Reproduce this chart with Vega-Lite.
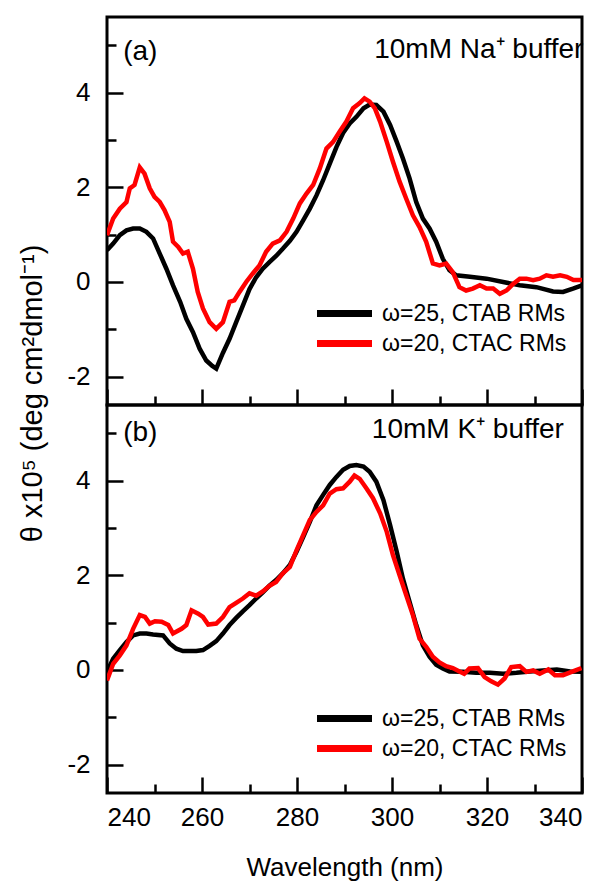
{
  "$schema": "https://vega.github.io/schema/vega-lite/v6.json",
  "padding": {"left": 16, "top": 15, "right": 5, "bottom": 5},
  "background": "white",
  "spacing": 0,
  "bounds": "flush",
  "config": {
    "font": "Liberation Sans",
    "view": {"stroke": "black", "strokeWidth": 3},
    "axis": {
      "domain": false,
      "grid": false,
      "tickColor": "black",
      "tickWidth": 2.5,
      "tickSize": -16,
      "labelColor": "black",
      "labelFont": "Liberation Sans",
      "labelFontSize": 26,
      "titleFont": "Liberation Sans",
      "titleFontSize": 26,
      "titleFontWeight": "normal",
      "titleColor": "black"
    },
    "legend": {
      "orient": "none",
      "legendX": 223,
      "title": null,
      "symbolType": "M-2.5,0H2.5",
      "symbolSize": 484,
      "symbolStrokeWidth": 7,
      "labelFont": "Liberation Sans",
      "labelFontSize": 23,
      "labelColor": "black",
      "labelOffset": 23,
      "labelLimit": 400,
      "rowPadding": 1
    }
  },
  "datasets": {
    "panelA": [
      {"wl": 240, "theta": 0.67, "series": "ω=25, CTAB RMs"},
      {"wl": 241.3, "theta": 0.81, "series": "ω=25, CTAB RMs"},
      {"wl": 242.7, "theta": 0.99, "series": "ω=25, CTAB RMs"},
      {"wl": 244.1, "theta": 1.09, "series": "ω=25, CTAB RMs"},
      {"wl": 245.5, "theta": 1.13, "series": "ω=25, CTAB RMs"},
      {"wl": 246.9, "theta": 1.13, "series": "ω=25, CTAB RMs"},
      {"wl": 248.3, "theta": 1.06, "series": "ω=25, CTAB RMs"},
      {"wl": 249.7, "theta": 0.92, "series": "ω=25, CTAB RMs"},
      {"wl": 251.1, "theta": 0.6, "series": "ω=25, CTAB RMs"},
      {"wl": 252.5, "theta": 0.28, "series": "ω=25, CTAB RMs"},
      {"wl": 253.9, "theta": -0.07, "series": "ω=25, CTAB RMs"},
      {"wl": 255.4, "theta": -0.42, "series": "ω=25, CTAB RMs"},
      {"wl": 256.7, "theta": -0.78, "series": "ω=25, CTAB RMs"},
      {"wl": 258.1, "theta": -1.06, "series": "ω=25, CTAB RMs"},
      {"wl": 259.5, "theta": -1.41, "series": "ω=25, CTAB RMs"},
      {"wl": 260.9, "theta": -1.66, "series": "ω=25, CTAB RMs"},
      {"wl": 262.1, "theta": -1.77, "series": "ω=25, CTAB RMs"},
      {"wl": 263, "theta": -1.83, "series": "ω=25, CTAB RMs"},
      {"wl": 264.4, "theta": -1.5, "series": "ω=25, CTAB RMs"},
      {"wl": 265.8, "theta": -1.2, "series": "ω=25, CTAB RMs"},
      {"wl": 267.2, "theta": -0.85, "series": "ω=25, CTAB RMs"},
      {"wl": 268.6, "theta": -0.5, "series": "ω=25, CTAB RMs"},
      {"wl": 270, "theta": -0.15, "series": "ω=25, CTAB RMs"},
      {"wl": 271.4, "theta": 0.1, "series": "ω=25, CTAB RMs"},
      {"wl": 272.8, "theta": 0.28, "series": "ω=25, CTAB RMs"},
      {"wl": 274.2, "theta": 0.42, "series": "ω=25, CTAB RMs"},
      {"wl": 275.6, "theta": 0.55, "series": "ω=25, CTAB RMs"},
      {"wl": 277, "theta": 0.7, "series": "ω=25, CTAB RMs"},
      {"wl": 278.5, "theta": 0.87, "series": "ω=25, CTAB RMs"},
      {"wl": 279.9, "theta": 1.06, "series": "ω=25, CTAB RMs"},
      {"wl": 281.3, "theta": 1.3, "series": "ω=25, CTAB RMs"},
      {"wl": 282.7, "theta": 1.55, "series": "ω=25, CTAB RMs"},
      {"wl": 284.1, "theta": 1.83, "series": "ω=25, CTAB RMs"},
      {"wl": 285.5, "theta": 2.15, "series": "ω=25, CTAB RMs"},
      {"wl": 286.9, "theta": 2.5, "series": "ω=25, CTAB RMs"},
      {"wl": 288.3, "theta": 2.85, "series": "ω=25, CTAB RMs"},
      {"wl": 289.7, "theta": 3.15, "series": "ω=25, CTAB RMs"},
      {"wl": 291.1, "theta": 3.35, "series": "ω=25, CTAB RMs"},
      {"wl": 292.5, "theta": 3.49, "series": "ω=25, CTAB RMs"},
      {"wl": 294, "theta": 3.67, "series": "ω=25, CTAB RMs"},
      {"wl": 295.3, "theta": 3.75, "series": "ω=25, CTAB RMs"},
      {"wl": 296.7, "theta": 3.74, "series": "ω=25, CTAB RMs"},
      {"wl": 298.2, "theta": 3.6, "series": "ω=25, CTAB RMs"},
      {"wl": 299.6, "theta": 3.32, "series": "ω=25, CTAB RMs"},
      {"wl": 301, "theta": 2.96, "series": "ω=25, CTAB RMs"},
      {"wl": 302.3, "theta": 2.61, "series": "ω=25, CTAB RMs"},
      {"wl": 303.7, "theta": 2.19, "series": "ω=25, CTAB RMs"},
      {"wl": 305.1, "theta": 1.69, "series": "ω=25, CTAB RMs"},
      {"wl": 306.5, "theta": 1.34, "series": "ω=25, CTAB RMs"},
      {"wl": 307.9, "theta": 1.13, "series": "ω=25, CTAB RMs"},
      {"wl": 309.3, "theta": 0.85, "series": "ω=25, CTAB RMs"},
      {"wl": 310.7, "theta": 0.49, "series": "ω=25, CTAB RMs"},
      {"wl": 312.1, "theta": 0.25, "series": "ω=25, CTAB RMs"},
      {"wl": 313.5, "theta": 0.14, "series": "ω=25, CTAB RMs"},
      {"wl": 316.4, "theta": 0.11, "series": "ω=25, CTAB RMs"},
      {"wl": 319.9, "theta": 0.07, "series": "ω=25, CTAB RMs"},
      {"wl": 323.4, "theta": 0.0, "series": "ω=25, CTAB RMs"},
      {"wl": 326.9, "theta": -0.07, "series": "ω=25, CTAB RMs"},
      {"wl": 330.4, "theta": -0.11, "series": "ω=25, CTAB RMs"},
      {"wl": 333.9, "theta": -0.2, "series": "ω=25, CTAB RMs"},
      {"wl": 336, "theta": -0.21, "series": "ω=25, CTAB RMs"},
      {"wl": 338.1, "theta": -0.14, "series": "ω=25, CTAB RMs"},
      {"wl": 340, "theta": -0.07, "series": "ω=25, CTAB RMs"},
      {"wl": 240, "theta": 0.99, "series": "ω=20, CTAC RMs"},
      {"wl": 241.3, "theta": 1.34, "series": "ω=20, CTAC RMs"},
      {"wl": 242.7, "theta": 1.55, "series": "ω=20, CTAC RMs"},
      {"wl": 244.1, "theta": 1.69, "series": "ω=20, CTAC RMs"},
      {"wl": 244.8, "theta": 1.98, "series": "ω=20, CTAC RMs"},
      {"wl": 245.8, "theta": 2.05, "series": "ω=20, CTAC RMs"},
      {"wl": 246.9, "theta": 2.42, "series": "ω=20, CTAC RMs"},
      {"wl": 247.9, "theta": 2.29, "series": "ω=20, CTAC RMs"},
      {"wl": 249, "theta": 1.98, "series": "ω=20, CTAC RMs"},
      {"wl": 250, "theta": 1.8, "series": "ω=20, CTAC RMs"},
      {"wl": 251.1, "theta": 1.69, "series": "ω=20, CTAC RMs"},
      {"wl": 252.1, "theta": 1.52, "series": "ω=20, CTAC RMs"},
      {"wl": 253.2, "theta": 1.27, "series": "ω=20, CTAC RMs"},
      {"wl": 253.9, "theta": 0.85, "series": "ω=20, CTAC RMs"},
      {"wl": 255, "theta": 0.74, "series": "ω=20, CTAC RMs"},
      {"wl": 256, "theta": 0.6, "series": "ω=20, CTAC RMs"},
      {"wl": 257, "theta": 0.64, "series": "ω=20, CTAC RMs"},
      {"wl": 258.1, "theta": 0.28, "series": "ω=20, CTAC RMs"},
      {"wl": 259.1, "theta": -0.21, "series": "ω=20, CTAC RMs"},
      {"wl": 260.2, "theta": -0.56, "series": "ω=20, CTAC RMs"},
      {"wl": 261.6, "theta": -0.85, "series": "ω=20, CTAC RMs"},
      {"wl": 263, "theta": -0.99, "series": "ω=20, CTAC RMs"},
      {"wl": 264.4, "theta": -0.85, "series": "ω=20, CTAC RMs"},
      {"wl": 265.8, "theta": -0.42, "series": "ω=20, CTAC RMs"},
      {"wl": 266.8, "theta": -0.39, "series": "ω=20, CTAC RMs"},
      {"wl": 267.9, "theta": -0.21, "series": "ω=20, CTAC RMs"},
      {"wl": 269.3, "theta": 0.0, "series": "ω=20, CTAC RMs"},
      {"wl": 270.7, "theta": 0.18, "series": "ω=20, CTAC RMs"},
      {"wl": 272.1, "theta": 0.35, "series": "ω=20, CTAC RMs"},
      {"wl": 273.5, "theta": 0.64, "series": "ω=20, CTAC RMs"},
      {"wl": 274.9, "theta": 0.81, "series": "ω=20, CTAC RMs"},
      {"wl": 276.4, "theta": 0.88, "series": "ω=20, CTAC RMs"},
      {"wl": 277.8, "theta": 1.06, "series": "ω=20, CTAC RMs"},
      {"wl": 279.2, "theta": 1.34, "series": "ω=20, CTAC RMs"},
      {"wl": 280.6, "theta": 1.66, "series": "ω=20, CTAC RMs"},
      {"wl": 282, "theta": 1.87, "series": "ω=20, CTAC RMs"},
      {"wl": 283.4, "theta": 2.05, "series": "ω=20, CTAC RMs"},
      {"wl": 284.8, "theta": 2.4, "series": "ω=20, CTAC RMs"},
      {"wl": 286.2, "theta": 2.82, "series": "ω=20, CTAC RMs"},
      {"wl": 287.6, "theta": 2.96, "series": "ω=20, CTAC RMs"},
      {"wl": 289, "theta": 3.18, "series": "ω=20, CTAC RMs"},
      {"wl": 290.4, "theta": 3.39, "series": "ω=20, CTAC RMs"},
      {"wl": 291.8, "theta": 3.67, "series": "ω=20, CTAC RMs"},
      {"wl": 293.2, "theta": 3.78, "series": "ω=20, CTAC RMs"},
      {"wl": 294.2, "theta": 3.88, "series": "ω=20, CTAC RMs"},
      {"wl": 295.3, "theta": 3.81, "series": "ω=20, CTAC RMs"},
      {"wl": 296.4, "theta": 3.67, "series": "ω=20, CTAC RMs"},
      {"wl": 297.5, "theta": 3.39, "series": "ω=20, CTAC RMs"},
      {"wl": 298.9, "theta": 2.96, "series": "ω=20, CTAC RMs"},
      {"wl": 300.2, "theta": 2.54, "series": "ω=20, CTAC RMs"},
      {"wl": 301.6, "theta": 2.12, "series": "ω=20, CTAC RMs"},
      {"wl": 303, "theta": 1.76, "series": "ω=20, CTAC RMs"},
      {"wl": 304.4, "theta": 1.41, "series": "ω=20, CTAC RMs"},
      {"wl": 305.8, "theta": 1.16, "series": "ω=20, CTAC RMs"},
      {"wl": 307.2, "theta": 0.85, "series": "ω=20, CTAC RMs"},
      {"wl": 308.6, "theta": 0.39, "series": "ω=20, CTAC RMs"},
      {"wl": 310, "theta": 0.35, "series": "ω=20, CTAC RMs"},
      {"wl": 311.4, "theta": 0.39, "series": "ω=20, CTAC RMs"},
      {"wl": 312.8, "theta": 0.21, "series": "ω=20, CTAC RMs"},
      {"wl": 314.2, "theta": -0.11, "series": "ω=20, CTAC RMs"},
      {"wl": 315.6, "theta": -0.18, "series": "ω=20, CTAC RMs"},
      {"wl": 317, "theta": -0.14, "series": "ω=20, CTAC RMs"},
      {"wl": 318.5, "theta": -0.07, "series": "ω=20, CTAC RMs"},
      {"wl": 319.9, "theta": -0.14, "series": "ω=20, CTAC RMs"},
      {"wl": 321.3, "theta": -0.14, "series": "ω=20, CTAC RMs"},
      {"wl": 322.7, "theta": -0.25, "series": "ω=20, CTAC RMs"},
      {"wl": 324.1, "theta": -0.18, "series": "ω=20, CTAC RMs"},
      {"wl": 325.5, "theta": -0.04, "series": "ω=20, CTAC RMs"},
      {"wl": 326.9, "theta": 0.07, "series": "ω=20, CTAC RMs"},
      {"wl": 328.3, "theta": 0.07, "series": "ω=20, CTAC RMs"},
      {"wl": 329.7, "theta": 0.04, "series": "ω=20, CTAC RMs"},
      {"wl": 331.1, "theta": 0.07, "series": "ω=20, CTAC RMs"},
      {"wl": 332.5, "theta": 0.14, "series": "ω=20, CTAC RMs"},
      {"wl": 333.9, "theta": 0.11, "series": "ω=20, CTAC RMs"},
      {"wl": 335.4, "theta": 0.14, "series": "ω=20, CTAC RMs"},
      {"wl": 336.8, "theta": 0.11, "series": "ω=20, CTAC RMs"},
      {"wl": 338.2, "theta": 0.04, "series": "ω=20, CTAC RMs"},
      {"wl": 340, "theta": 0.04, "series": "ω=20, CTAC RMs"}
    ],
    "panelB": [
      {"wl": 240, "theta": -0.04, "series": "ω=25, CTAB RMs"},
      {"wl": 241.3, "theta": 0.24, "series": "ω=25, CTAB RMs"},
      {"wl": 242.7, "theta": 0.42, "series": "ω=25, CTAB RMs"},
      {"wl": 244.1, "theta": 0.59, "series": "ω=25, CTAB RMs"},
      {"wl": 245.5, "theta": 0.73, "series": "ω=25, CTAB RMs"},
      {"wl": 246.9, "theta": 0.77, "series": "ω=25, CTAB RMs"},
      {"wl": 248.3, "theta": 0.77, "series": "ω=25, CTAB RMs"},
      {"wl": 249.7, "theta": 0.75, "series": "ω=25, CTAB RMs"},
      {"wl": 251.8, "theta": 0.73, "series": "ω=25, CTAB RMs"},
      {"wl": 253.2, "theta": 0.56, "series": "ω=25, CTAB RMs"},
      {"wl": 254.6, "theta": 0.45, "series": "ω=25, CTAB RMs"},
      {"wl": 256, "theta": 0.4, "series": "ω=25, CTAB RMs"},
      {"wl": 257.4, "theta": 0.4, "series": "ω=25, CTAB RMs"},
      {"wl": 258.8, "theta": 0.4, "series": "ω=25, CTAB RMs"},
      {"wl": 260.2, "theta": 0.42, "series": "ω=25, CTAB RMs"},
      {"wl": 261.6, "theta": 0.51, "series": "ω=25, CTAB RMs"},
      {"wl": 263, "theta": 0.61, "series": "ω=25, CTAB RMs"},
      {"wl": 264.4, "theta": 0.77, "series": "ω=25, CTAB RMs"},
      {"wl": 265.8, "theta": 0.95, "series": "ω=25, CTAB RMs"},
      {"wl": 267.2, "theta": 1.1, "series": "ω=25, CTAB RMs"},
      {"wl": 268.6, "theta": 1.24, "series": "ω=25, CTAB RMs"},
      {"wl": 270, "theta": 1.37, "series": "ω=25, CTAB RMs"},
      {"wl": 271.4, "theta": 1.51, "series": "ω=25, CTAB RMs"},
      {"wl": 272.8, "theta": 1.64, "series": "ω=25, CTAB RMs"},
      {"wl": 274.2, "theta": 1.78, "series": "ω=25, CTAB RMs"},
      {"wl": 275.6, "theta": 1.9, "series": "ω=25, CTAB RMs"},
      {"wl": 277, "theta": 2.04, "series": "ω=25, CTAB RMs"},
      {"wl": 278.5, "theta": 2.22, "series": "ω=25, CTAB RMs"},
      {"wl": 279.9, "theta": 2.5, "series": "ω=25, CTAB RMs"},
      {"wl": 281.3, "theta": 2.81, "series": "ω=25, CTAB RMs"},
      {"wl": 282.7, "theta": 3.13, "series": "ω=25, CTAB RMs"},
      {"wl": 284.1, "theta": 3.48, "series": "ω=25, CTAB RMs"},
      {"wl": 285.5, "theta": 3.7, "series": "ω=25, CTAB RMs"},
      {"wl": 286.9, "theta": 3.91, "series": "ω=25, CTAB RMs"},
      {"wl": 288.3, "theta": 4.08, "series": "ω=25, CTAB RMs"},
      {"wl": 289.7, "theta": 4.23, "series": "ω=25, CTAB RMs"},
      {"wl": 291.1, "theta": 4.31, "series": "ω=25, CTAB RMs"},
      {"wl": 292.5, "theta": 4.33, "series": "ω=25, CTAB RMs"},
      {"wl": 294, "theta": 4.3, "series": "ω=25, CTAB RMs"},
      {"wl": 295.3, "theta": 4.19, "series": "ω=25, CTAB RMs"},
      {"wl": 296.7, "theta": 3.98, "series": "ω=25, CTAB RMs"},
      {"wl": 298.2, "theta": 3.59, "series": "ω=25, CTAB RMs"},
      {"wl": 299.6, "theta": 3.06, "series": "ω=25, CTAB RMs"},
      {"wl": 301, "theta": 2.5, "series": "ω=25, CTAB RMs"},
      {"wl": 302.3, "theta": 1.93, "series": "ω=25, CTAB RMs"},
      {"wl": 303.7, "theta": 1.44, "series": "ω=25, CTAB RMs"},
      {"wl": 305.1, "theta": 0.95, "series": "ω=25, CTAB RMs"},
      {"wl": 306.5, "theta": 0.52, "series": "ω=25, CTAB RMs"},
      {"wl": 307.9, "theta": 0.28, "series": "ω=25, CTAB RMs"},
      {"wl": 309.3, "theta": 0.11, "series": "ω=25, CTAB RMs"},
      {"wl": 310.7, "theta": 0.03, "series": "ω=25, CTAB RMs"},
      {"wl": 312.1, "theta": -0.03, "series": "ω=25, CTAB RMs"},
      {"wl": 314.9, "theta": -0.04, "series": "ω=25, CTAB RMs"},
      {"wl": 317.7, "theta": -0.06, "series": "ω=25, CTAB RMs"},
      {"wl": 320.6, "theta": -0.06, "series": "ω=25, CTAB RMs"},
      {"wl": 323.4, "theta": -0.08, "series": "ω=25, CTAB RMs"},
      {"wl": 326.2, "theta": -0.06, "series": "ω=25, CTAB RMs"},
      {"wl": 329, "theta": -0.03, "series": "ω=25, CTAB RMs"},
      {"wl": 331.8, "theta": -0.01, "series": "ω=25, CTAB RMs"},
      {"wl": 334.7, "theta": 0.01, "series": "ω=25, CTAB RMs"},
      {"wl": 337.5, "theta": -0.03, "series": "ω=25, CTAB RMs"},
      {"wl": 340, "theta": -0.04, "series": "ω=25, CTAB RMs"},
      {"wl": 240, "theta": -0.22, "series": "ω=20, CTAC RMs"},
      {"wl": 241.3, "theta": 0.13, "series": "ω=20, CTAC RMs"},
      {"wl": 242.7, "theta": 0.31, "series": "ω=20, CTAC RMs"},
      {"wl": 244.1, "theta": 0.52, "series": "ω=20, CTAC RMs"},
      {"wl": 245.5, "theta": 0.87, "series": "ω=20, CTAC RMs"},
      {"wl": 246.9, "theta": 1.16, "series": "ω=20, CTAC RMs"},
      {"wl": 248, "theta": 1.12, "series": "ω=20, CTAC RMs"},
      {"wl": 249, "theta": 0.98, "series": "ω=20, CTAC RMs"},
      {"wl": 250.1, "theta": 1.03, "series": "ω=20, CTAC RMs"},
      {"wl": 251.5, "theta": 1.02, "series": "ω=20, CTAC RMs"},
      {"wl": 252.9, "theta": 0.95, "series": "ω=20, CTAC RMs"},
      {"wl": 253.9, "theta": 0.77, "series": "ω=20, CTAC RMs"},
      {"wl": 255.7, "theta": 0.87, "series": "ω=20, CTAC RMs"},
      {"wl": 256.7, "theta": 0.95, "series": "ω=20, CTAC RMs"},
      {"wl": 257.8, "theta": 1.26, "series": "ω=20, CTAC RMs"},
      {"wl": 259.2, "theta": 1.19, "series": "ω=20, CTAC RMs"},
      {"wl": 260.2, "theta": 1.12, "series": "ω=20, CTAC RMs"},
      {"wl": 261.3, "theta": 0.96, "series": "ω=20, CTAC RMs"},
      {"wl": 263, "theta": 0.98, "series": "ω=20, CTAC RMs"},
      {"wl": 264.4, "theta": 1.12, "series": "ω=20, CTAC RMs"},
      {"wl": 265.8, "theta": 1.33, "series": "ω=20, CTAC RMs"},
      {"wl": 267.2, "theta": 1.42, "series": "ω=20, CTAC RMs"},
      {"wl": 268.6, "theta": 1.51, "series": "ω=20, CTAC RMs"},
      {"wl": 270, "theta": 1.62, "series": "ω=20, CTAC RMs"},
      {"wl": 271.4, "theta": 1.57, "series": "ω=20, CTAC RMs"},
      {"wl": 272.8, "theta": 1.66, "series": "ω=20, CTAC RMs"},
      {"wl": 274.2, "theta": 1.78, "series": "ω=20, CTAC RMs"},
      {"wl": 275.6, "theta": 1.86, "series": "ω=20, CTAC RMs"},
      {"wl": 277, "theta": 2.04, "series": "ω=20, CTAC RMs"},
      {"wl": 278.5, "theta": 2.18, "series": "ω=20, CTAC RMs"},
      {"wl": 279.9, "theta": 2.53, "series": "ω=20, CTAC RMs"},
      {"wl": 281.3, "theta": 2.85, "series": "ω=20, CTAC RMs"},
      {"wl": 282.7, "theta": 3.17, "series": "ω=20, CTAC RMs"},
      {"wl": 284.1, "theta": 3.34, "series": "ω=20, CTAC RMs"},
      {"wl": 285.5, "theta": 3.48, "series": "ω=20, CTAC RMs"},
      {"wl": 286.9, "theta": 3.73, "series": "ω=20, CTAC RMs"},
      {"wl": 288.3, "theta": 3.82, "series": "ω=20, CTAC RMs"},
      {"wl": 289.7, "theta": 3.84, "series": "ω=20, CTAC RMs"},
      {"wl": 291.1, "theta": 3.98, "series": "ω=20, CTAC RMs"},
      {"wl": 292.1, "theta": 4.11, "series": "ω=20, CTAC RMs"},
      {"wl": 293.2, "theta": 4.04, "series": "ω=20, CTAC RMs"},
      {"wl": 294.6, "theta": 3.84, "series": "ω=20, CTAC RMs"},
      {"wl": 296, "theta": 3.63, "series": "ω=20, CTAC RMs"},
      {"wl": 297.5, "theta": 3.31, "series": "ω=20, CTAC RMs"},
      {"wl": 298.9, "theta": 2.92, "series": "ω=20, CTAC RMs"},
      {"wl": 300.2, "theta": 2.43, "series": "ω=20, CTAC RMs"},
      {"wl": 301.6, "theta": 2.0, "series": "ω=20, CTAC RMs"},
      {"wl": 303, "theta": 1.58, "series": "ω=20, CTAC RMs"},
      {"wl": 304.4, "theta": 1.16, "series": "ω=20, CTAC RMs"},
      {"wl": 305.8, "theta": 0.66, "series": "ω=20, CTAC RMs"},
      {"wl": 307.2, "theta": 0.49, "series": "ω=20, CTAC RMs"},
      {"wl": 308.6, "theta": 0.28, "series": "ω=20, CTAC RMs"},
      {"wl": 310, "theta": 0.16, "series": "ω=20, CTAC RMs"},
      {"wl": 311.4, "theta": 0.08, "series": "ω=20, CTAC RMs"},
      {"wl": 312.8, "theta": 0.04, "series": "ω=20, CTAC RMs"},
      {"wl": 314.2, "theta": -0.03, "series": "ω=20, CTAC RMs"},
      {"wl": 315.2, "theta": -0.08, "series": "ω=20, CTAC RMs"},
      {"wl": 316.3, "theta": 0.03, "series": "ω=20, CTAC RMs"},
      {"wl": 318.1, "theta": 0.04, "series": "ω=20, CTAC RMs"},
      {"wl": 319.5, "theta": -0.15, "series": "ω=20, CTAC RMs"},
      {"wl": 320.9, "theta": -0.24, "series": "ω=20, CTAC RMs"},
      {"wl": 322.3, "theta": -0.31, "series": "ω=20, CTAC RMs"},
      {"wl": 323.7, "theta": -0.18, "series": "ω=20, CTAC RMs"},
      {"wl": 325.1, "theta": 0.06, "series": "ω=20, CTAC RMs"},
      {"wl": 326.9, "theta": 0.08, "series": "ω=20, CTAC RMs"},
      {"wl": 328.3, "theta": -0.04, "series": "ω=20, CTAC RMs"},
      {"wl": 329.7, "theta": -0.01, "series": "ω=20, CTAC RMs"},
      {"wl": 331.1, "theta": -0.08, "series": "ω=20, CTAC RMs"},
      {"wl": 332.9, "theta": 0.01, "series": "ω=20, CTAC RMs"},
      {"wl": 334.3, "theta": -0.11, "series": "ω=20, CTAC RMs"},
      {"wl": 336, "theta": -0.11, "series": "ω=20, CTAC RMs"},
      {"wl": 337.8, "theta": -0.04, "series": "ω=20, CTAC RMs"},
      {"wl": 339.9, "theta": 0.04, "series": "ω=20, CTAC RMs"}
    ]
  },
  "resolve": {"legend": {"color": "independent"}},
  "vconcat": [
    {
      "width": 475,
      "height": 388,
      "layer": [
        {
          "data": {"name": "panelA"},
          "mark": {"type": "line", "strokeWidth": 4.5, "clip": true},
          "encoding": {
            "x": {
              "field": "wl", "type": "quantitative",
              "scale": {"domain": [240, 340], "nice": false, "zero": false},
              "axis": {
                "values": [240, 250, 260, 270, 280, 290, 300, 310, 320, 330, 340],
                "labels": false,
                "title": null,
                "tickDash": {"condition": {"test": "datum.value % 20 !== 0", "value": [9, 40]}, "value": [40, 1]}
              }
            },
            "y": {
              "field": "theta", "type": "quantitative",
              "scale": {"domain": [-2.6, 5.6], "nice": false, "zero": false},
              "axis": {
                "values": [-2, -1, 0, 1, 2, 3, 4, 5],
                "labelExpr": "datum.value % 2 === 0 ? '' + datum.value : ''",
                "labelPadding": 33,
                "tickDash": {"condition": {"test": "datum.value % 2 !== 0", "value": [9, 40]}, "value": [40, 1]},
                "title": "θ x10⁵ (deg cm²dmol⁻¹)",
                "titleFontSize": 29,
                "titleAngle": -90,
                "titleX": -66,
                "titleY": 376,
                "titleAlign": "center",
                "titleBaseline": "alphabetic"
              }
            },
            "color": {
              "field": "series", "type": "nominal",
              "scale": {"domain": ["ω=25, CTAB RMs", "ω=20, CTAC RMs"], "range": ["#000000", "#ff0000"]},
              "legend": {"legendY": 282}
            }
          }
        },
        {
          "data": {"values": [{"label": "(a)"}]},
          "mark": {"type": "text", "align": "left", "baseline": "middle", "fontSize": 28, "font": "Liberation Sans", "color": "black"},
          "encoding": {
            "x": {"datum": 243.4, "type": "quantitative"},
            "y": {"datum": 4.85, "type": "quantitative"},
            "text": {"field": "label"}
          }
        },
        {
          "data": {"values": [{"label": "10mM Na⁺ buffer"}]},
          "mark": {"type": "text", "align": "right", "baseline": "middle", "fontSize": 28, "font": "Liberation Sans", "color": "black"},
          "encoding": {
            "x": {"datum": 340.3, "type": "quantitative"},
            "y": {"datum": 4.91, "type": "quantitative"},
            "text": {"field": "label"}
          }
        }
      ]
    },
    {
      "width": 475,
      "height": 388,
      "layer": [
        {
          "data": {"name": "panelB"},
          "mark": {"type": "line", "strokeWidth": 4.5, "clip": true},
          "encoding": {
            "x": {
              "field": "wl", "type": "quantitative",
              "scale": {"domain": [240, 340], "nice": false, "zero": false},
              "axis": {
                "values": [240, 250, 260, 270, 280, 290, 300, 310, 320, 330, 340],
                "labelExpr": "datum.value % 20 === 0 ? '' + datum.value : ''",
                "labelPadding": 27,
                "tickDash": {"condition": {"test": "datum.value % 20 !== 0", "value": [9, 40]}, "value": [40, 1]},
                "title": "Wavelength (nm)",
                "titlePadding": 24
              }
            },
            "y": {
              "field": "theta", "type": "quantitative",
              "scale": {"domain": [-2.6, 5.6], "nice": false, "zero": false},
              "axis": {
                "values": [-2, -1, 0, 1, 2, 3, 4, 5],
                "labelExpr": "datum.value % 2 === 0 ? '' + datum.value : ''",
                "labelPadding": 33,
                "tickDash": {"condition": {"test": "datum.value % 2 !== 0", "value": [9, 40]}, "value": [40, 1]},
                "title": null
              }
            },
            "color": {
              "field": "series", "type": "nominal",
              "scale": {"domain": ["ω=25, CTAB RMs", "ω=20, CTAC RMs"], "range": ["#000000", "#ff0000"]},
              "legend": {"legendY": 299}
            }
          }
        },
        {
          "data": {"values": [{"label": "(b)"}]},
          "mark": {"type": "text", "align": "left", "baseline": "middle", "fontSize": 28, "font": "Liberation Sans", "color": "black"},
          "encoding": {
            "x": {"datum": 243.4, "type": "quantitative"},
            "y": {"datum": 5.0, "type": "quantitative"},
            "text": {"field": "label"}
          }
        },
        {
          "data": {"values": [{"label": "10mM K⁺ buffer"}]},
          "mark": {"type": "text", "align": "right", "baseline": "middle", "fontSize": 28, "font": "Liberation Sans", "color": "black"},
          "encoding": {
            "x": {"datum": 336.2, "type": "quantitative"},
            "y": {"datum": 5.08, "type": "quantitative"},
            "text": {"field": "label"}
          }
        }
      ]
    }
  ]
}
